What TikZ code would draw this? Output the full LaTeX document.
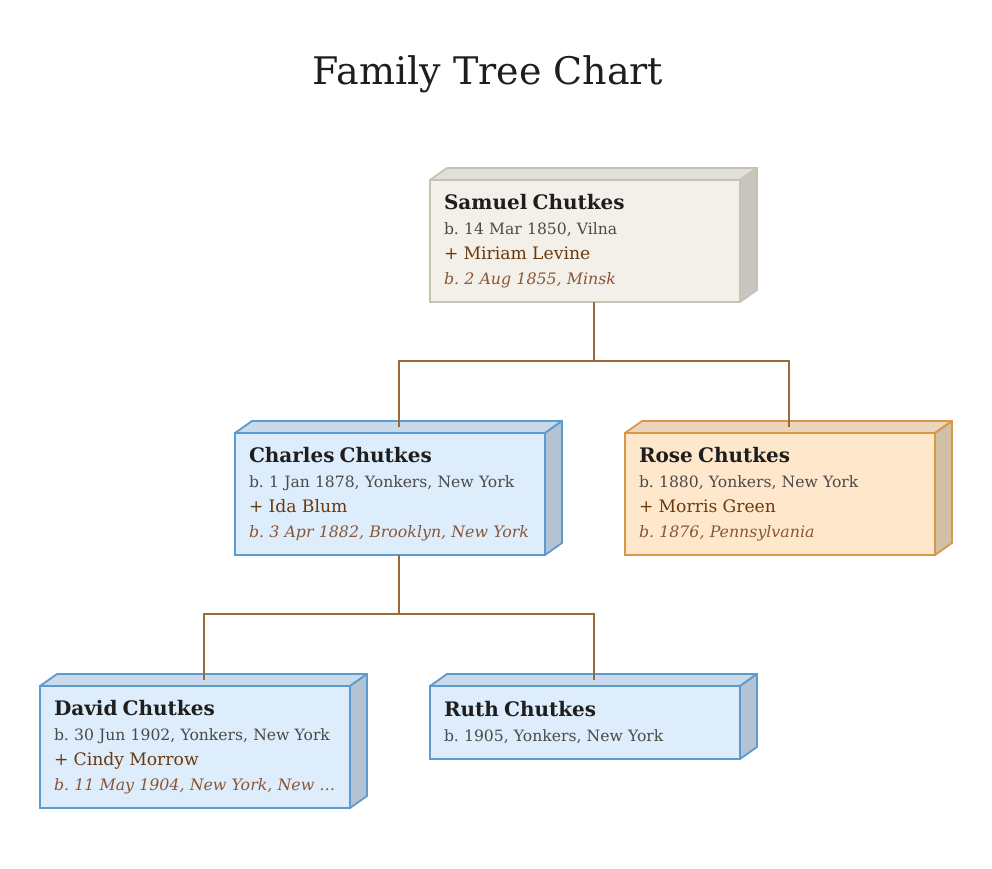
\documentclass[tikz,border=0pt]{standalone}
\usepackage{fontspec}
\usepackage{xcolor}
\setmainfont{DejaVu Serif}
\usetikzlibrary{positioning, calc}
\definecolor{frontstone}{HTML}{F3F0E9}
\definecolor{topstone}{HTML}{E1DFD9}
\definecolor{sidestone}{HTML}{C9C6BF}
\definecolor{linestone}{HTML}{C8C2B2}
\definecolor{frontsky}{HTML}{DDEDFC}
\definecolor{topsky}{HTML}{C9DAEB}
\definecolor{sidesky}{HTML}{B4C3D2}
\definecolor{linesky}{HTML}{5B9BD0}
\definecolor{frontpeach}{HTML}{FFE7CC}
\definecolor{toppeach}{HTML}{EDD5BB}
\definecolor{sidepeach}{HTML}{D1BFA6}
\definecolor{linepeach}{HTML}{D6994A}
\definecolor{namecol}{HTML}{1E1E1E}
\definecolor{borncol}{HTML}{4A4A48}
\definecolor{wedcol}{HTML}{6A3A0C}
\definecolor{wedborncol}{HTML}{8A5636}
\definecolor{linkcol}{HTML}{9B6A3A}
\newcommand{\who}[1]{{\fontsize{20}{25}\selectfont\bfseries\color{namecol}#1}}
\newcommand{\born}[1]{{\color{borncol}#1}}
\newcommand{\wed}[1]{{\fontsize{17.2}{25}\selectfont\color{wedcol}#1}}
\newcommand{\wedborn}[1]{{\fontsize{15.8}{25}\selectfont\itshape\color{wedborncol}#1}}

\begin{document}
\frenchspacing
\begin{tikzpicture}[x=1pt, y=-1pt,
    person/.style={rectangle, draw, line width=1.8pt, anchor=north west, outer sep=0pt,
                   minimum width=310pt, minimum height=122pt, inner xsep=14pt,
                   text width=282pt, align=left, font=\fontsize{15.6}{25}\selectfont},
    link/.style={draw=linkcol, line width=2pt}]
    \useasboundingbox (0,0) rectangle (992,869);

    % Title
    \node[font=\fontsize{38}{44}\selectfont, text=namecol] (title) at (488,74) {Family Tree Chart};

    % Boxes
    \node[person, fill=frontstone, draw=linestone] (samuel) at (430,180)
        {\who{Samuel Chutkes}\\ \born{b. 14 Mar 1850, Vilna}\\ \wed{+ Miriam Levine}\\ \wedborn{b. 2 Aug 1855, Minsk}};
    \node[person, fill=frontsky, draw=linesky] (charles) at (235,433)
        {\who{Charles Chutkes}\\ \born{b. 1 Jan 1878, Yonkers, New York}\\ \wed{+ Ida Blum}\\ \wedborn{b. 3 Apr 1882, Brooklyn, New York}};
    \node[person, fill=frontpeach, draw=linepeach] (rose) at (625,433)
        {\who{Rose Chutkes}\\ \born{b. 1880, Yonkers, New York}\\ \wed{+ Morris Green}\\ \wedborn{b. 1876, Pennsylvania}};
    \node[person, fill=frontsky, draw=linesky] (david) at (40,686)
        {\who{David Chutkes}\\ \born{b. 30 Jun 1902, Yonkers, New York}\\ \wed{+ Cindy Morrow}\\ \wedborn{b. 11 May 1904, New York, New \dots}};
    \node[person, fill=frontsky, draw=linesky, minimum height=73pt] (ruth) at (430,686)
        {\who{Ruth Chutkes}\\ \born{b. 1905, Yonkers, New York}};

    % Depth faces
    \foreach \n/\c in {samuel/stone, charles/sky, rose/peach, david/sky, ruth/sky} {
        \draw[fill=top\c, draw=line\c, line width=1.8pt, line join=round]
            (\n.north west) -- ([shift={(17pt,12pt)}]\n.north west)
            -- ([shift={(17pt,12pt)}]\n.north east) -- (\n.north east) -- cycle;
        \draw[fill=side\c, draw=line\c, line width=1.8pt, line join=round]
            (\n.north east) -- ([shift={(17pt,12pt)}]\n.north east)
            -- ([shift={(17pt,12pt)}]\n.south east) -- (\n.south east) -- cycle;
    }

    % Links
    \foreach \p/\c in {samuel/charles, samuel/rose, charles/david, charles/ruth}
        \draw[link] ([xshift=8.5pt]\p.south) -- ++(0,59) -| ([xshift=8.5pt,yshift=6pt]\c.north);
\end{tikzpicture}
\end{document}
